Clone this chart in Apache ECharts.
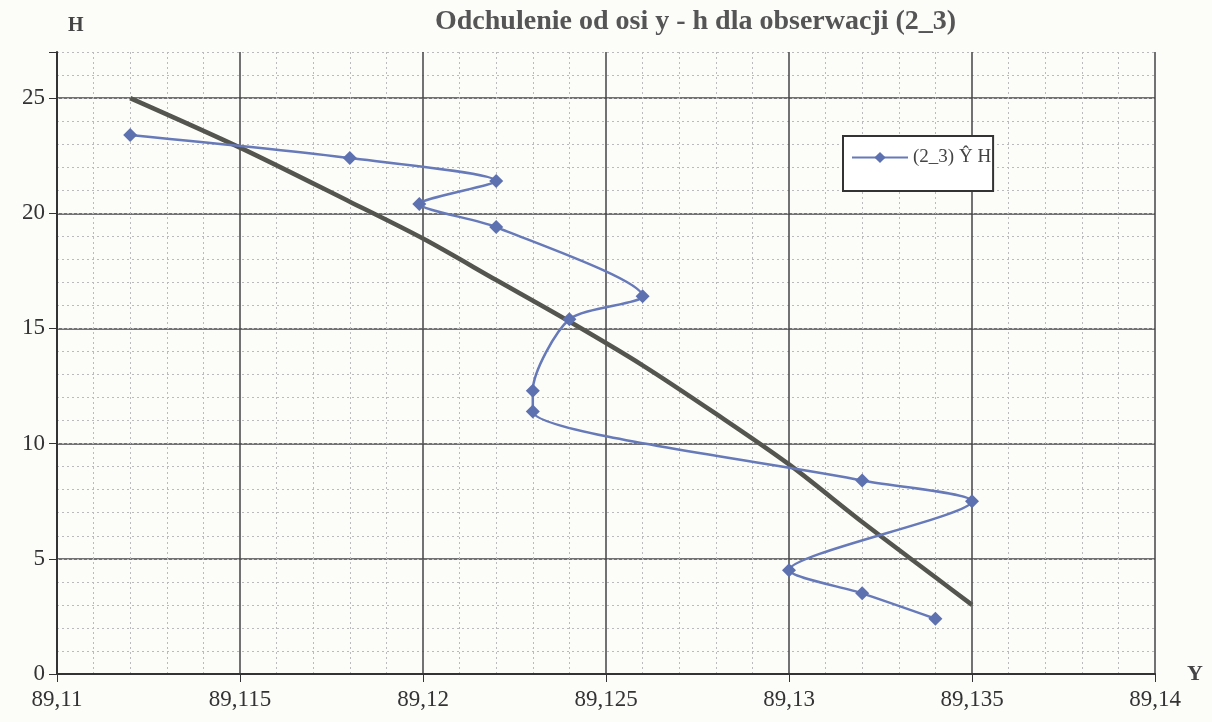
<!DOCTYPE html>
<html>
<head>
    <meta charset="utf-8"/>
    <script src="https://cdn.jsdelivr.net/npm/echarts@6/dist/echarts.min.js"></script>
    <style>
        body { margin: 0; background: #fcfcf9; }
    </style>
</head>
<body>
<div id="main" style="width: 1212px;height:722px;"></div>
<script type="text/javascript">
    // dane pomiarowe (Y, H)
    var obsY = [89.112, 89.118, 89.122, 89.1199, 89.122, 89.126, 89.124, 89.123, 89.123, 89.132, 89.135, 89.130, 89.132, 89.134];
    var obsH = [23.4, 22.4, 21.4, 20.4, 19.4, 16.4, 15.4, 12.3, 11.4, 8.4, 7.5, 4.5, 3.5, 2.4];

    // linia trendu
    var trendY = [89.112, 89.115, 89.118, 89.120, 89.122, 89.124, 89.126, 89.128, 89.130, 89.132, 89.134, 89.135];
    var trendH = [25.0, 22.85, 20.5, 18.9, 17.1, 15.3, 13.4, 11.3, 9.1, 6.6, 4.2, 3.0];

    var xTicks = [89.11, 89.115, 89.12, 89.125, 89.13, 89.135, 89.14];
    var hTicks = [0, 5, 10, 15, 20, 25];

    function pairs(xs, ys) {
        var out = [];
        for (var i = 0; i < xs.length; i++) out.push([xs[i], ys[i]]);
        return out;
    }

    var serif = '"Liberation Serif", "DejaVu Serif", serif';
    var myChart = echarts.init(document.getElementById('main'));

    var option = {
        backgroundColor: '#fcfcf9',
        animation: false,
        title: {
            text: 'Odchulenie od osi y - h dla obserwacji (2_3)',
            left: 430,
            top: 3,
            textStyle: { fontFamily: serif, fontSize: 28, fontWeight: 'bold', color: '#555' }
        },
        legend: {
            data: ['(2_3) Ŷ H'],
            left: 843,
            top: 136,
            orient: 'vertical',
            backgroundColor: '#fff',
            borderColor: '#333',
            borderWidth: 2,
            borderRadius: 0,
            padding: [12, 2, 24, 8],
            itemWidth: 56,
            itemHeight: 14,
            itemGap: 4,
            textStyle: { fontFamily: serif, fontSize: 19, color: '#444' }
        },
        grid: { left: 57, right: 57, top: 52, bottom: 48 },
        xAxis: {
            type: 'value',
            min: xTicks[0],
            max: xTicks[xTicks.length - 1],
            interval: 0.005,
            name: 'Y',
            nameGap: 32,
            nameTextStyle: { fontFamily: serif, fontSize: 22, fontWeight: 'bold', color: '#444', verticalAlign: 'middle' },
            axisLine: { lineStyle: { color: '#333', width: 2 } },
            axisTick: { show: true, length: 8, lineStyle: { color: '#333' } },
            axisLabel: {
                fontFamily: serif, fontSize: 23, color: '#333', margin: 14,
                formatter: function (v) { return String(+v.toFixed(3)).replace('.', ','); }
            },
            splitLine: { show: true, lineStyle: { color: '#444', width: 1.5 } },
            minorTick: { show: false, splitNumber: 5 },
            minorSplitLine: { show: true, lineStyle: { color: '#bbb', type: [2, 3], width: 1 } }
        },
        yAxis: [{
            type: 'value',
            min: 0,
            max: 27,
            interval: 5,
            name: 'H',
            nameLocation: 'end',
            nameGap: 16,
            nameTextStyle: { fontFamily: serif, fontSize: 20, fontWeight: 'bold', color: '#444', align: 'left', padding: [0, 0, 0, 11] },
            axisLine: { show: true, lineStyle: { color: '#333', width: 2 } },
            axisTick: { show: true, length: 8, lineStyle: { color: '#333' } },
            axisLabel: {
                fontFamily: serif, fontSize: 23, color: '#333', margin: 12,
                formatter: function (v) { return hTicks.indexOf(v) >= 0 ? String(v) : ''; }
            },
            splitLine: {
                show: true,
                lineStyle: { color: ['#444', '#444', '#444', '#444', '#444', '#444', 'rgba(0,0,0,0)'], width: 1.5 }
            }
        }, {
            type: 'value',
            min: 0,
            max: 27,
            interval: 1,
            position: 'left',
            axisLine: { show: false },
            axisTick: { show: false },
            axisLabel: { show: false },
            splitLine: { show: true, lineStyle: { color: '#bbb', type: [2, 3], width: 1 } }
        }],
        series: [
            {
                name: 'trend',
                type: 'line',
                data: pairs(trendY, trendH),
                smooth: 0.3,
                showSymbol: false,
                symbol: 'none',
                lineStyle: { color: '#555550', width: 4.5 },
                z: 2
            },
            {
                name: '(2_3) Ŷ H',
                type: 'line',
                data: pairs(obsY, obsH),
                smooth: 0.25,
                symbol: 'diamond',
                symbolSize: 14,
                itemStyle: { color: '#5d70b0' },
                lineStyle: { color: '#6679b8', width: 2.5 },
                z: 3
            }
        ]
    };

    myChart.setOption(option);
</script>
</body>
</html>
